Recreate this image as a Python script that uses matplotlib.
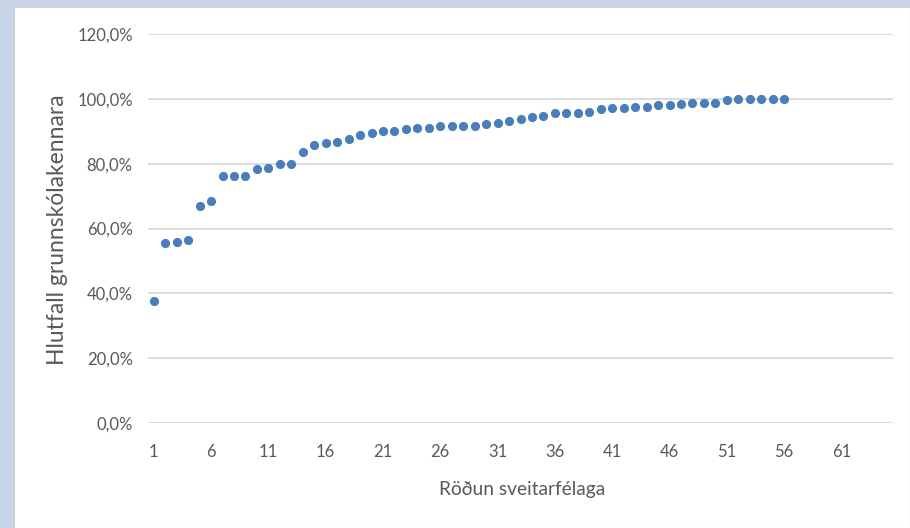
import matplotlib
matplotlib.use("Agg")
import matplotlib.pyplot as plt
from matplotlib.patches import Rectangle
from matplotlib.ticker import FuncFormatter, FixedLocator

plt.rcParams['font.family'] = ['Lato', 'DejaVu Sans']

rank = list(range(1, 57))
share = [37.7, 55.5, 55.8, 56.3, 67.0, 68.4, 76.2, 76.2, 76.2, 78.4,
         78.8, 79.8, 79.8, 83.6, 85.8, 86.3, 86.6, 87.5, 88.8, 89.6,
         90.2, 90.2, 90.6, 90.9, 90.9, 91.7, 91.7, 91.7, 91.7, 92.3,
         92.6, 93.2, 93.9, 94.3, 94.7, 95.5, 95.5, 95.5, 95.9, 96.8,
         97.3, 97.3, 97.6, 97.6, 98.0, 98.0, 98.4, 98.8, 98.8, 98.8,
         99.5, 100.0, 100.0, 100.0, 100.0, 100.0]
x_ticks = [1, 6, 11, 16, 21, 26, 31, 36, 41, 46, 51, 56, 61]
y_ticks = [0, 20, 40, 60, 80, 100, 120]
x_label = "Röðun sveitarfélaga"
y_label = "Hlutfall grunnskólakennara"

W, H = 910, 528
fig = plt.figure(figsize=(W / 100, H / 100), dpi=100)
fig.patch.set_facecolor('#C8D5E8')
fig.patches.append(Rectangle((14 / W, 0), 1 - 14 / W, 1 - 7 / H,
                             transform=fig.transFigure, facecolor='white',
                             edgecolor='#D0D0D0', linewidth=0.8, zorder=-10))

ax = fig.add_axes([148 / W, 1 - 423 / H, (893 - 148) / W, (423 - 34) / H])
ax.set_zorder(5)
ax.set_facecolor('none')
ax.plot(rank, share, linestyle='none', marker='o', markersize=6.6,
        color='#4A7EBB', markeredgewidth=0, zorder=3)

ax.set_xlim(0.5, 65.5)
ax.set_ylim(0, 120)
ax.xaxis.set_major_locator(FixedLocator(x_ticks))
ax.yaxis.set_major_locator(FixedLocator(y_ticks))
ax.yaxis.set_major_formatter(FuncFormatter(lambda v, p: f"{v:.1f}".replace('.', ',') + "%"))
ax.grid(axis='y', color='#D9D9D9', linewidth=1.3)
ax.grid(axis='x', visible=False)
for s in ax.spines.values():
    s.set_visible(False)
ax.tick_params(axis='both', length=0, labelsize=12, labelcolor='#595959')
ax.tick_params(axis='x', pad=15)
ax.tick_params(axis='y', pad=11)

fig.text(57 / W, 1 - 230 / H, y_label, rotation=90, ha='center', va='center',
         fontsize=16.5, color='#595959')
fig.text(522 / W, 1 - 489 / H, x_label, ha='center', va='center',
         fontsize=13.8, color='#595959')

fig.savefig('out.png', dpi=100, facecolor=fig.get_facecolor())
